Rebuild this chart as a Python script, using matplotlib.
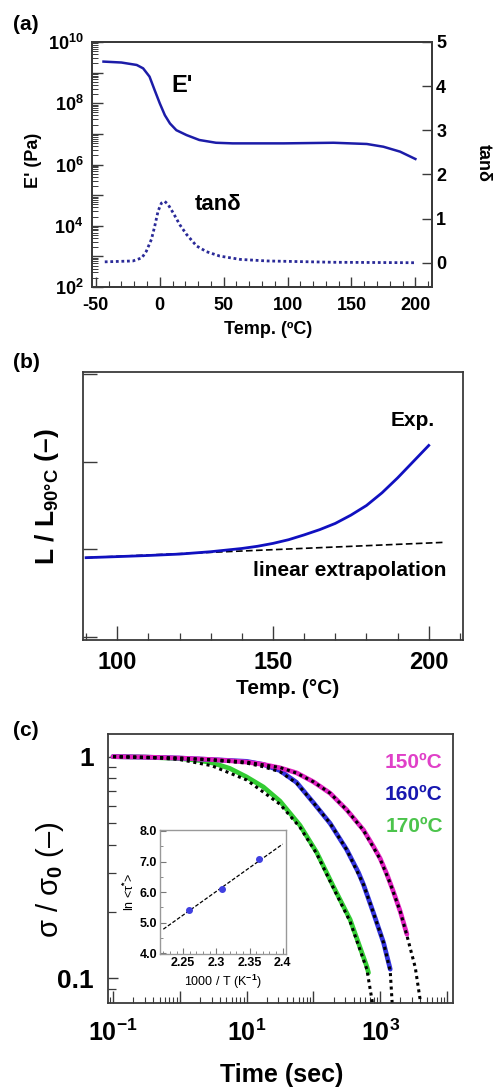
import numpy as np
import matplotlib
matplotlib.use("Agg")
import matplotlib.pyplot as plt
from matplotlib.ticker import LogLocator, FuncFormatter, FixedLocator, MultipleLocator, NullFormatter

plt.rcParams['font.family'] = ['Liberation Sans', 'DejaVu Sans']
plt.rcParams['font.weight'] = 'bold'
plt.rcParams['mathtext.fontset'] = 'custom'
plt.rcParams['mathtext.rm'] = 'Liberation Sans:bold'
plt.rcParams['mathtext.bf'] = 'Liberation Sans:bold'
plt.rcParams['mathtext.it'] = 'Liberation Sans:bold:italic'
plt.rcParams['mathtext.default'] = 'rm'
plt.rcParams['axes.unicode_minus'] = False

# ---------------- data (a) ----------------
a_temp_E = [-44, -30, -18, -13, -8, -4, 0, 4, 8, 13, 21, 31, 44, 57, 97, 136, 162, 175, 188, 200]
a_logE = [9.36, 9.33, 9.25, 9.14, 8.87, 8.43, 8.0, 7.61, 7.34, 7.12, 6.96, 6.80, 6.71, 6.69, 6.69, 6.71, 6.67, 6.58, 6.42, 6.18]
a_temp_tan = [-43, -21, -14, -10.5, -6.5, -3.9, -1.3, 1.3, 3.9, 6.5, 10.5, 15.7, 21, 28.8, 36.6, 47, 63, 84, 136, 200]
a_tan = [0.02, 0.04, 0.11, 0.26, 0.53, 0.83, 1.17, 1.35, 1.39, 1.32, 1.13, 0.86, 0.64, 0.38, 0.25, 0.15, 0.075, 0.04, 0.01, 0.0]

# ---------------- data (b) ----------------
b_temp = [90, 100, 110, 120, 130, 140, 145, 150, 155, 160, 165, 170, 175, 180, 185, 190, 195, 200]
b_L = [0.99810, 0.99834, 0.99860, 0.99892, 0.99946, 1.00020, 1.00070, 1.00136, 1.00220,
       1.00330, 1.00450, 1.00592, 1.00780, 1.01000, 1.01290, 1.01630, 1.02000, 1.02370]
b_lin_temp = [90, 205]
b_lin_L = [0.99810, 1.00160]
b_yticks = [0.98, 1.00, 1.02, 1.04]

# ---------------- data (c) ----------------
t150 = [0.1, 0.3, 1, 3, 5.6, 10, 17.8, 31.6, 56, 100, 178, 316, 562, 794, 1000, 1259, 1585, 2000, 2512]
s150 = [1.0, 0.995, 0.985, 0.97, 0.958, 0.945, 0.922, 0.89, 0.845, 0.77, 0.684, 0.575, 0.467, 0.393,
        0.347, 0.295, 0.245, 0.2, 0.158]
t160 = [0.1, 0.3, 1, 3, 10, 17.8, 31.6, 56, 100, 178, 316, 473, 562, 794, 1122, 1413]
s160 = [1.0, 0.995, 0.985, 0.97, 0.952, 0.922, 0.865, 0.765, 0.62, 0.50, 0.38, 0.30, 0.265, 0.197, 0.145, 0.11]
t170 = [0.1, 0.3, 1, 2, 3.16, 5.6, 10, 17.8, 31.6, 63, 112, 200, 355, 631, 668]
s170 = [1.0, 0.995, 0.98, 0.96, 0.935, 0.885, 0.81, 0.73, 0.63, 0.49, 0.37, 0.259, 0.184, 0.113, 0.106]

fit150_t = [0.1, 1, 3, 10, 31.6, 56, 100, 178, 316, 562, 1000, 1413, 2000, 2512, 3350, 4100]
fit150_s = [1.0, 0.985, 0.97, 0.945, 0.893, 0.843, 0.77, 0.684, 0.575, 0.465, 0.345, 0.268, 0.2, 0.156, 0.112, 0.075]
fit160_t = [0.1, 1, 3, 10, 17.8, 31.6, 56, 100, 178, 316, 562, 794, 1122, 1413, 1520]
fit160_s = [1.0, 0.985, 0.965, 0.935, 0.9, 0.855, 0.76, 0.62, 0.5, 0.38, 0.265, 0.197, 0.145, 0.108, 0.075]
fit170_t = [0.1, 0.5, 1, 3, 10, 31.6, 63, 112, 200, 355, 631, 780]
fit170_s = [1.0, 0.985, 0.97, 0.91, 0.785, 0.61, 0.48, 0.365, 0.255, 0.18, 0.11, 0.075]

inset_x = [2.258, 2.309, 2.364]
inset_y = [5.41, 6.10, 7.07]
inset_fit_x = [2.22, 2.40]
inset_fit_y = [4.79, 7.57]

W, H = 493, 1088
fig = plt.figure(figsize=(W / 100, H / 100), dpi=100)

def rect(l, t, r, b):
    return [l / W, 1 - b / H, (r - l) / W, (b - t) / H]

spine_c = '#3a3a3a'

# ================= (a) =================
ax = fig.add_axes(rect(92, 42, 432, 287))
ax.plot(a_temp_E, 10 ** np.array(a_logE), color='#1c1ca8', lw=1.8)
ax.set_yscale('log')
ax.set_ylim(1e2, 1e10)
ax.set_xlim(-53, 213)
ax.yaxis.set_major_locator(LogLocator(base=10, numticks=20))
ax.yaxis.set_minor_locator(LogLocator(base=10, subs=np.arange(2, 10), numticks=100))
ax.yaxis.set_minor_formatter(NullFormatter())
ax.yaxis.set_major_formatter(FuncFormatter(
    lambda v, p: ('10$^{%d}$' % int(round(np.log10(v)))) if int(round(np.log10(v))) % 2 == 0 else ''))
ax.xaxis.set_major_locator(MultipleLocator(50))
ax.xaxis.set_minor_locator(MultipleLocator(10))
ax.tick_params(axis='both', which='both', direction='in', labelsize=13, color=spine_c)
ax.tick_params(axis='y', which='major', length=8, width=1.0, pad=6)
ax.tick_params(axis='y', which='minor', length=4, width=0.7)
ax.tick_params(axis='x', which='major', length=7, width=1.0, pad=7)
ax.tick_params(axis='x', which='minor', length=4, width=0.8)
for s in ax.spines.values():
    s.set_color(spine_c); s.set_linewidth(1.3)
ax2 = ax.twinx()
ax2.plot(a_temp_tan, a_tan, color='#2a2a98', lw=2.0, ls=(0, (1, 1)))
ax2.set_ylim(-0.55, 5)
ax2.yaxis.set_major_locator(MultipleLocator(1))
ax2.tick_params(axis='y', direction='in', length=7, width=1.0, labelsize=13, pad=3, color=spine_c)
for s in ax2.spines.values():
    s.set_color(spine_c); s.set_linewidth(1.3)
fig.text(182 / W, 1 - 85 / H, "E'", fontsize=17, ha='center', va='center')
fig.text(218 / W, 1 - 205 / H, "tanδ", fontsize=16, ha='center', va='center')
fig.text(268 / W, 1 - 330 / H, "Temp. (ºC)", fontsize=13, ha='center', va='center')
fig.text(33 / W, 1 - 160 / H, "E' (Pa)", fontsize=13, ha='center', va='center', rotation=90)
fig.text(483 / W, 1 - 163 / H, "tanδ", fontsize=13, ha='center', va='center', rotation=270)
fig.text(13 / W, 1 - 25 / H, "(a)", fontsize=15, ha='left', va='center')

# ================= (b) =================
bx = fig.add_axes(rect(83, 372, 463, 640))
bx.plot(b_lin_temp, b_lin_L, color='black', lw=1.2, ls=(0, (4, 2)))
bx.plot(b_temp, b_L, color='#1010c0', lw=2.0)
bx.set_xlim(89, 211)
bx.set_ylim(0.97932, 1.04046)
bx.yaxis.set_major_locator(FixedLocator(b_yticks))
bx.yaxis.set_major_formatter(NullFormatter())
bx.xaxis.set_major_locator(MultipleLocator(50))
bx.xaxis.set_minor_locator(MultipleLocator(10))
bx.tick_params(axis='both', which='both', direction='in', color=spine_c)
bx.tick_params(axis='x', which='major', length=10, width=1.0, labelsize=17, pad=8)
bx.tick_params(axis='x', which='minor', length=5, width=0.9)
bx.tick_params(axis='y', which='major', length=10, width=1.0)
for s in bx.spines.values():
    s.set_color(spine_c); s.set_linewidth(1.3)
fig.text(413 / W, 1 - 420 / H, "Exp.", fontsize=15, ha='center', va='center')
fig.text(446 / W, 1 - 570 / H, "linear extrapolation", fontsize=15, ha='right', va='center')
fig.text(288 / W, 1 - 688 / H, "Temp. (°C)", fontsize=15, ha='center', va='center')
fig.text(47 / W, 1 - 497 / H, "L / L$_{90°C}$ (–)", fontsize=19, ha='center', va='center', rotation=90)
fig.text(13 / W, 1 - 362 / H, "(b)", fontsize=15, ha='left', va='center')

# ================= (c) =================
cx = fig.add_axes(rect(108, 734, 453, 1003))
cx.plot(t170, s170, color='#33cc33', lw=3.4, solid_capstyle='round', solid_joinstyle='round')
cx.plot(t160, s160, color='#3333dd', lw=3.4, solid_capstyle='round', solid_joinstyle='round')
cx.plot(t150, s150, color='#e020c0', lw=3.4, solid_capstyle='round', solid_joinstyle='round')
for ft, fs in [(fit150_t, fit150_s), (fit160_t, fit160_s), (fit170_t, fit170_s)]:
    cx.plot(ft, fs, color='black', lw=2.2, ls=(0, (1, 1.2)))
cx.set_xscale('log')
cx.set_yscale('log')
cx.set_xlim(10 ** -1.075, 10 ** 4.09)
cx.set_ylim(10 ** -1.111, 10 ** 0.102)
cx.xaxis.set_major_locator(LogLocator(base=10, numticks=20))
cx.xaxis.set_minor_locator(LogLocator(base=10, subs=np.arange(2, 10), numticks=100))
cx.xaxis.set_major_formatter(FuncFormatter(
    lambda v, p: ('10$^{%d}$' % int(round(np.log10(v)))) if int(round(np.log10(v))) in (-1, 1, 3) else ''))
cx.xaxis.set_minor_formatter(NullFormatter())
cx.yaxis.set_major_locator(FixedLocator([0.1, 1.0]))
cx.yaxis.set_major_formatter(FuncFormatter(lambda v, p: '1' if v > 0.5 else '0.1'))
cx.yaxis.set_minor_locator(FixedLocator([0.09, 0.2, 0.3, 0.4, 0.5, 0.6, 0.7, 0.8, 0.9]))
cx.yaxis.set_minor_formatter(NullFormatter())
cx.tick_params(axis='both', which='both', direction='in', color=spine_c)
cx.tick_params(axis='x', which='major', length=9, width=1.0, labelsize=18, pad=12)
cx.tick_params(axis='x', which='minor', length=4, width=0.8)
cx.tick_params(axis='y', which='major', length=7, width=1.0, labelsize=19, pad=10)
cx.tick_params(axis='y', which='minor', length=6, width=0.9)
for s in cx.spines.values():
    s.set_color(spine_c); s.set_linewidth(1.3)
fig.text(414 / W, 1 - 763 / H, "150ºC", fontsize=15, ha='center', va='center', color='#e040c8')
fig.text(414 / W, 1 - 795 / H, "160ºC", fontsize=15, ha='center', va='center', color='#1818b0')
fig.text(414 / W, 1 - 827 / H, "170ºC", fontsize=15, ha='center', va='center', color='#4cc44c')
fig.text(282 / W, 1 - 1075 / H, "Time (sec)", fontsize=18, ha='center', va='center')
fig.text(50 / W, 1 - 880 / H, "σ / σ$_0$ (–)", fontsize=21, ha='center', va='center', rotation=90,
         fontweight='normal')
fig.text(13 / W, 1 - 730 / H, "(c)", fontsize=15, ha='left', va='center')

# ---- inset ----
ix = fig.add_axes(rect(160, 830, 286, 954))
ix.plot(inset_fit_x, inset_fit_y, color='black', lw=0.9, ls=(0, (3, 1.5)))
ix.plot(inset_x, inset_y, 'o', color='#4040e0', ms=4)
ix.set_xlim(2.215, 2.405)
ix.set_ylim(3.98, 8.03)
ix.xaxis.set_major_locator(FixedLocator([2.25, 2.30, 2.35, 2.40]))
ix.xaxis.set_major_formatter(FuncFormatter(lambda v, p: ('%g' % round(v, 2))))
ix.xaxis.set_minor_locator(MultipleLocator(0.01))
ix.yaxis.set_major_locator(MultipleLocator(1.0))
ix.yaxis.set_major_formatter(FuncFormatter(lambda v, p: '%.1f' % v))
ix.yaxis.set_minor_locator(MultipleLocator(0.5))
ix.tick_params(axis='both', which='both', direction='in', labelsize=9, color='#777777', pad=2)
ix.tick_params(which='major', length=4)
ix.tick_params(which='minor', length=2)
for s in ix.spines.values():
    s.set_color('#999999'); s.set_linewidth(1.0)
ix.set_xlabel("1000 / T (K$^{-1}$)", fontsize=9, labelpad=3)
ix.set_ylabel("ln <τ$^{*}$>", fontsize=9, labelpad=2)

fig.savefig("out.png", dpi=100)
